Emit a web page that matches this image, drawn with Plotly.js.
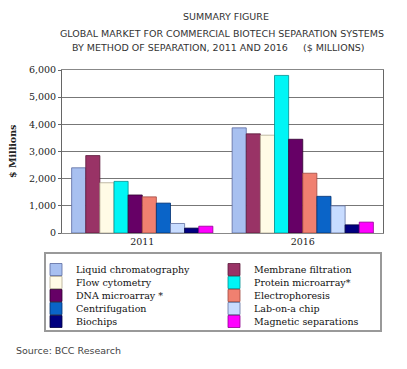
<!DOCTYPE html>
<html>
<head>
<meta charset="utf-8">
<script src="https://cdn.plot.ly/plotly-3.0.1.min.js"></script>
<style>html,body{margin:0;padding:0;background:#fff;}#chart{width:407px;height:369px;}</style>
</head>
<body>
<div id="chart"></div>
<script>
const years = ['2011', '2016'];
const methods = ['Liquid chromatography', 'Membrane filtration', 'Flow cytometry', 'Protein microarray*',
  'DNA microarray *', 'Electrophoresis', 'Centrifugation', 'Lab-on-a chip', 'Biochips', 'Magnetic separations'];
const values2011 = [2400, 2850, 1850, 1900, 1400, 1330, 1100, 350, 180, 250];
const values2016 = [3870, 3650, 3600, 5800, 3450, 2200, 1350, 1000, 300, 400];
const colors = ['#a8c0f0', '#993366', '#fffbe6', '#00f5f5', '#660066', '#f08070', '#0a64c8', '#c8dcff', '#000080', '#ff00ff'];
const lineColors = ['#5a6aa0', '#5a1a3a', '#b0a890', '#009090', '#300030', '#a04840', '#003070', '#6070a0', '#000040', '#900090'];
const yTitle = '$ Millions';

const serif = 'DejaVu Serif, serif';
const sans = 'DejaVu Sans, Verdana, sans-serif';

const traces = methods.map((m, i) => ({
  type: 'bar',
  name: m,
  x: years,
  y: [values2011[i], values2016[i]],
  marker: {color: colors[i], line: {color: lineColors[i], width: 0.8}},
  legend: i % 2 === 0 ? 'legend' : 'legend2',
  hoverinfo: 'x+y+name'
}));

const legendCommon = {
  xref: 'container', yref: 'container', yanchor: 'top', xanchor: 'left',
  bgcolor: 'rgba(0,0,0,0)', borderwidth: 0,
  font: {family: serif, size: 9.5, color: '#111'},
  itemwidth: 30, tracegroupgap: 0
};

const layout = {
  width: 407, height: 369,
  margin: {l: 62, r: 24, t: 70, b: 136, autoexpand: false},
  paper_bgcolor: '#ffffff', plot_bgcolor: '#ffffff',
  barmode: 'group', bargap: 0.12, bargroupgap: 0,
  title: {text: 'SUMMARY FIGURE', x: 226 / 407, xanchor: 'center', y: 1 - 17 / 369, yanchor: 'middle',
    font: {family: sans, size: 9.5, color: '#333'}},
  xaxis: {type: 'category', showline: true, linecolor: '#888', mirror: true, ticks: '',
    tickfont: {family: serif, size: 9.5, color: '#222'}, showgrid: false, fixedrange: true},
  yaxis: {range: [0, 6000], dtick: 1000, tickformat: ',d', showline: true, linecolor: '#666', mirror: true,
    gridcolor: '#777', gridwidth: 1, ticks: 'outside', ticklen: 3, tickcolor: '#666',
    tickfont: {family: serif, size: 9.5, color: '#222'}, fixedrange: true},
  showlegend: true,
  legend: Object.assign({}, legendCommon, {x: 36 / 407, y: 1 - 255 / 369}),
  legend2: Object.assign({}, legendCommon, {x: 214 / 407, y: 1 - 255 / 369}),
  shapes: [{type: 'rect', xref: 'paper', yref: 'paper',
    x0: (45 - 62) / 321, x1: (381 - 62) / 321, y0: (233 - 253) / 163, y1: (233 - 331) / 163,
    line: {color: '#999', width: 2}, fillcolor: 'rgba(0,0,0,0)', layer: 'below'}],
  annotations: [
    {text: 'GLOBAL MARKET FOR COMMERCIAL BIOTECH SEPARATION SYSTEMS', xref: 'paper', yref: 'paper',
      x: (222 - 62) / 321, y: (233 - 34) / 163, xanchor: 'center', yanchor: 'middle', showarrow: false,
      font: {family: sans, size: 9.5, color: '#333'}},
    {text: 'BY METHOD OF SEPARATION, 2011 AND 2016&nbsp;&nbsp;&nbsp;&nbsp;&nbsp;($ MILLIONS)', xref: 'paper', yref: 'paper',
      x: (218 - 62) / 321, y: (233 - 48) / 163, xanchor: 'center', yanchor: 'middle', showarrow: false,
      font: {family: sans, size: 9.5, color: '#333'}},
    {text: '<b>' + yTitle + '</b>', xref: 'paper', yref: 'paper', textangle: -90,
      x: (12 - 62) / 321, y: (233 - 152) / 163, xanchor: 'center', yanchor: 'middle', showarrow: false,
      font: {family: serif, size: 9.5, color: '#222'}},
    {text: 'Source: BCC Research', xref: 'paper', yref: 'paper',
      x: (14 - 62) / 321, y: (233 - 350) / 163, xanchor: 'left', yanchor: 'middle', showarrow: false,
      font: {family: sans, size: 9.5, color: '#444'}}
  ]
};

Plotly.newPlot('chart', traces, layout, {displayModeBar: false, responsive: false}).then(gd => {
  // tighten legend rows to the reference's 13px spacing
  ['legend', 'legend2'].forEach(id => {
    const items = gd.querySelectorAll('g.' + id + ' g.traces');
    let y0 = null;
    items.forEach((g, k) => {
      const m = /translate\(\s*([-\d.e]+)[ ,]+([-\d.e]+)\s*\)/.exec(g.getAttribute('transform') || '');
      if (!m) return;
      const x = parseFloat(m[1]), y = parseFloat(m[2]);
      if (y0 === null) y0 = y;
      g.setAttribute('transform', 'translate(' + x + ',' + (y0 + k * 13) + ')');
    });
  });
});
</script>
</body>
</html>
